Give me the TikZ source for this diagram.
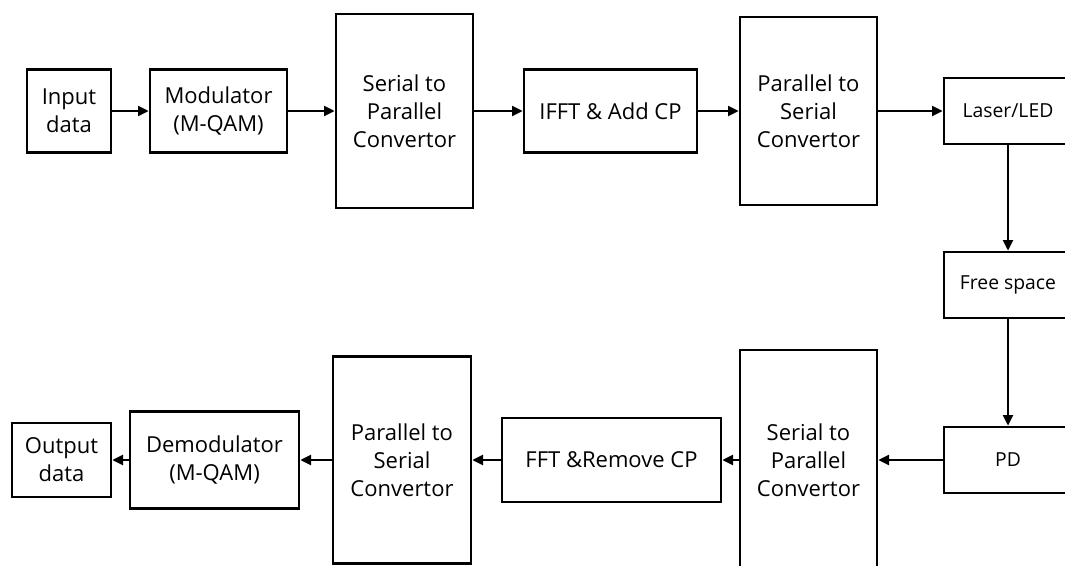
\documentclass[tikz,border=0pt]{standalone}
\usepackage{fontspec}
\setmainfont{Open Sans}
\usetikzlibrary{arrows.meta,positioning}

\begin{document}
\begin{tikzpicture}[x=0.75pt,y=-0.75pt,
	blk/.style={draw,line width=2pt,align=center,inner sep=0pt,font=\fontsize{16.5}{21}\selectfont},
	small/.style={font=\fontsize{14.5}{18}\selectfont},
	arr/.style={-{Triangle[length=8pt,width=7.5pt]},line width=1.8pt}]

\useasboundingbox (0,0) rectangle (1065,565);
\clip (0,0) rectangle (1065,565);

% transmitter
\node[blk,minimum width=84pt*0.75,minimum height=83pt*0.75]    (in)    at (69,111)    {Input\\data};
\node[blk,minimum width=137pt*0.75,minimum height=83pt*0.75]   (mod)   at (218.5,111) {Modulator\\(M-QAM)};
\node[blk,minimum width=137pt*0.75,minimum height=194pt*0.75]  (sp1)   at (404.5,111) {Serial to\\Parallel\\Convertor};
\node[blk,minimum width=173pt*0.75,minimum height=83pt*0.75]   (ifft)  at (610.5,111) {IFFT \& Add CP};
\node[blk,minimum width=137pt*0.75,minimum height=188pt*0.75]  (ps1)   at (808.5,111) {Parallel to\\Serial\\Convertor};
\node[blk,small,minimum width=128pt*0.75,minimum height=66pt*0.75] (laser) at (1008,111) {Laser/LED};

% channel
\node[blk,small,minimum width=128pt*0.75,minimum height=66pt*0.75] (free)  at (1008,285) {Free space};
\node[blk,small,minimum width=128pt*0.75,minimum height=66pt*0.75] (pd)    at (1008,460) {PD};

% receiver
\node[blk,minimum width=137pt*0.75,minimum height=220pt*0.75]  (sp2)   at (808.5,460) {Serial to\\Parallel\\Convertor};
\node[blk,minimum width=219pt*0.75,minimum height=84pt*0.75]   (fft)   at (611.5,460) {FFT \&Remove CP};
\node[blk,minimum width=138pt*0.75,minimum height=207pt*0.75]  (ps2)   at (402,460)   {Parallel to\\Serial\\Convertor};
\node[blk,minimum width=169pt*0.75,minimum height=97pt*0.75]   (demod) at (214.5,460) {Demodulator\\(M-QAM)};
\node[blk,minimum width=99pt*0.75,minimum height=74pt*0.75]    (out)   at (61.5,460)  {Output\\data};

\draw[arr] (in) -- (mod);
\draw[arr] (mod) -- (sp1);
\draw[arr] (sp1) -- (ifft);
\draw[arr] (ifft) -- (ps1);
\draw[arr] (ps1) -- (laser);
\draw[arr] (laser) -- (free);
\draw[arr] (free) -- (pd);
\draw[arr] (pd) -- (sp2);
\draw[arr] (sp2) -- (fft);
\draw[arr] (fft) -- (ps2);
\draw[arr] (ps2) -- (demod);
\draw[arr] (demod) -- (out);
\end{tikzpicture}
\end{document}
